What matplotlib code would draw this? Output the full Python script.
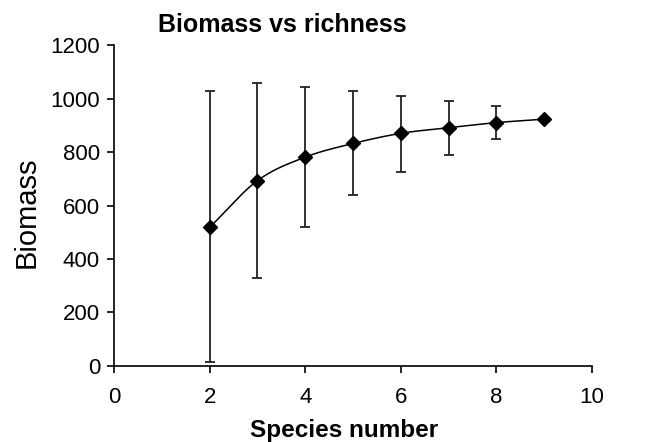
import matplotlib
matplotlib.use('Agg')
import matplotlib.pyplot as plt
import numpy as np

plt.rcParams['font.family'] = ['Liberation Sans', 'DejaVu Sans']

# data
species = [2, 3, 4, 5, 6, 7, 8, 9]
biomass = [518, 693, 781, 832, 870, 891, 910, 923]
err_low = [14, 330, 518, 639, 726, 789, 850, 923]
err_high = [1028, 1058, 1042, 1029, 1011, 992, 973, 923]


def smooth(x, y, n=20):
    # Catmull-Rom curve through the points (like a smoothed line in a spreadsheet)
    x = np.asarray(x, float)
    y = np.asarray(y, float)
    px = np.concatenate([[2 * x[0] - x[1]], x, [2 * x[-1] - x[-2]]])
    py = np.concatenate([[2 * y[0] - y[1]], y, [2 * y[-1] - y[-2]]])
    xs, ys = [], []
    t = np.linspace(0, 1, n)
    for i in range(1, len(px) - 2):
        for p, out in ((px, xs), (py, ys)):
            p0, p1, p2, p3 = p[i - 1], p[i], p[i + 1], p[i + 2]
            out.extend(0.5 * (2 * p1 + (-p0 + p2) * t
                              + (2 * p0 - 5 * p1 + 4 * p2 - p3) * t ** 2
                              + (-p0 + 3 * p1 - 3 * p2 + p3) * t ** 3))
    return xs, ys


fig = plt.figure(figsize=(6.56, 4.42), dpi=100)
ax = fig.add_axes([0.1738, 0.172, 0.7287, 0.726])

sx, sy = smooth(species, biomass)
ax.plot(sx, sy, color='black', lw=1.1)
yerr = [np.array(biomass) - np.array(err_low), np.array(err_high) - np.array(biomass)]
ax.errorbar(species, biomass, yerr=yerr, fmt='D', color='black', ms=7,
            ecolor='#222222', elinewidth=1.3, capsize=3.3, capthick=1.3)

ax.set_xlim(0, 10)
ax.set_ylim(0, 1200)
ax.set_xticks(range(0, 11, 2))
ax.set_yticks(range(0, 1201, 200))
ax.spines['top'].set_visible(False)
ax.spines['right'].set_visible(False)
ax.spines['left'].set_linewidth(1.2)
ax.spines['bottom'].set_linewidth(1.2)
ax.tick_params(direction='out', length=5, width=1.2, labelsize=16)
ax.tick_params(axis='x', pad=10)
ax.tick_params(axis='y', pad=5)

fig.text(282 / 656, 1 - 25 / 442, 'Biomass vs richness', ha='center', va='center',
         fontsize=18, fontweight='bold')
fig.text(344 / 656, 1 - 430 / 442, 'Species number', ha='center', va='center',
         fontsize=17.5, fontweight='bold')
fig.text(27 / 656, 1 - 212 / 442, 'Biomass', ha='center', va='center',
         fontsize=21, rotation=90)

fig.savefig('out.png', dpi=100)
